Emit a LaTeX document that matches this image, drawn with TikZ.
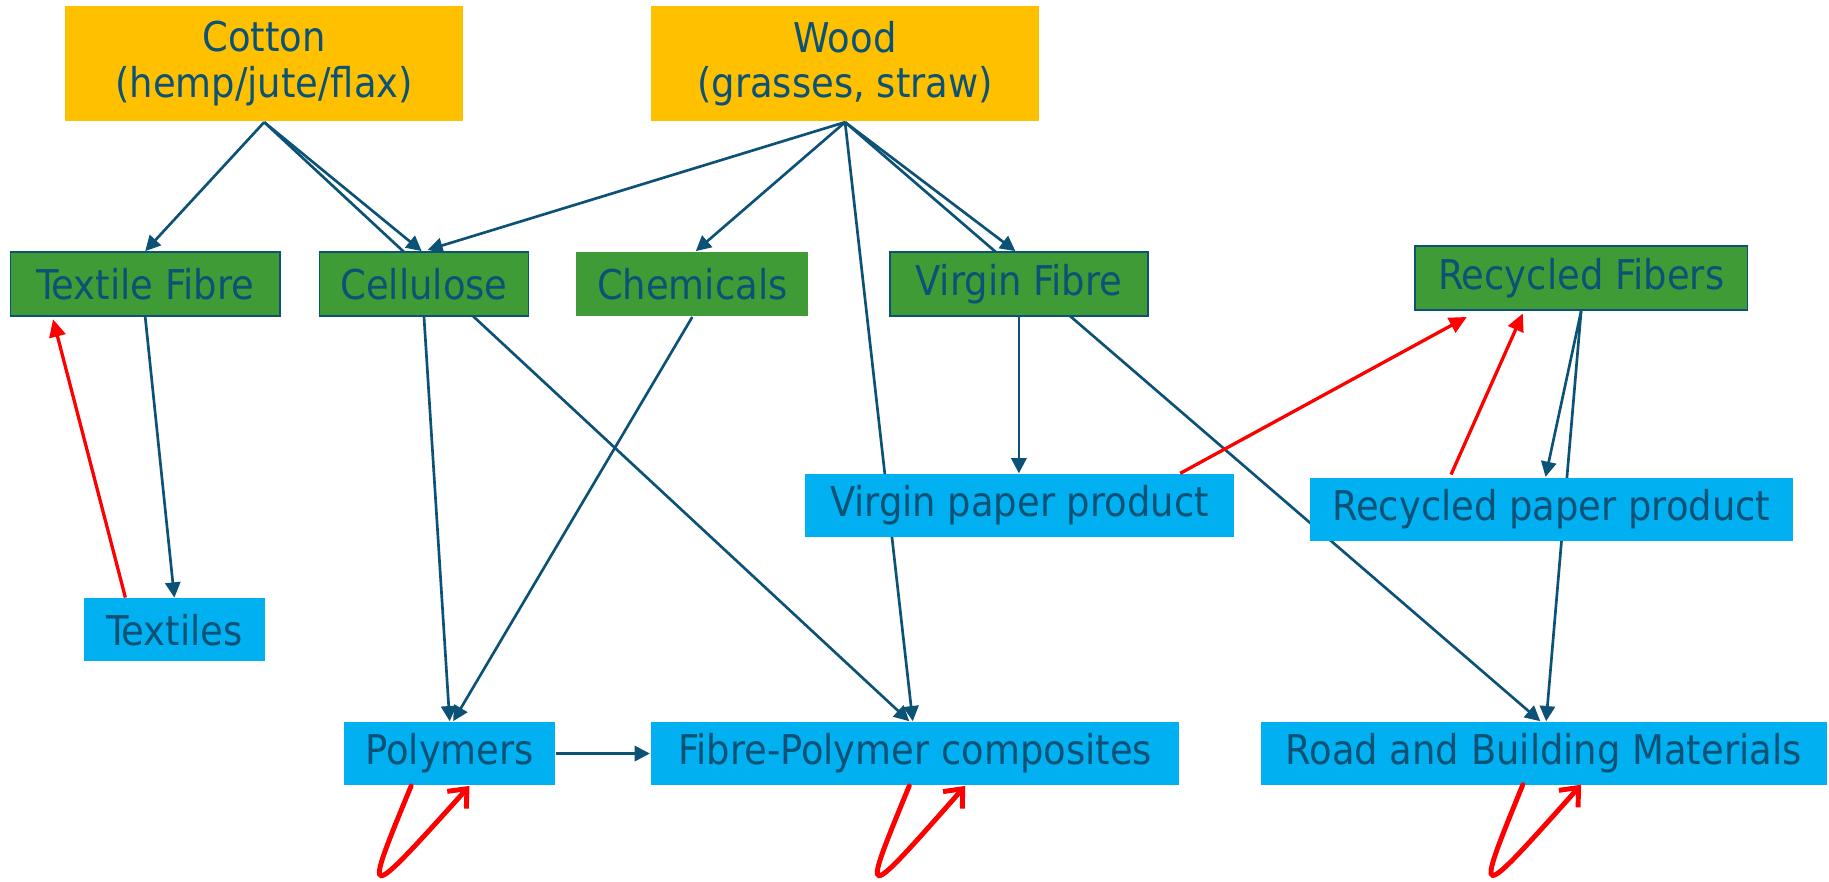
\documentclass[tikz,border=0pt]{standalone}
\usepackage{fontspec}
\setmainfont{DejaVu Sans Condensed}
\usetikzlibrary{arrows.meta,positioning,calc,backgrounds}
\definecolor{ink}{RGB}{12,82,118}
\definecolor{gold}{RGB}{255,192,0}
\definecolor{leaf}{RGB}{62,155,53}
\definecolor{sky}{RGB}{0,176,240}

\begin{document}
\begin{tikzpicture}[
    x=0.01cm, y=-0.01cm,
    font=\fontsize{10}{11}\selectfont,
    every node/.style={text=ink, inner sep=0pt, align=center},
    arrow/.style={-{Triangle[length=1.3mm, width=1.3mm]}, draw=ink, line width=0.65pt},
    feedback/.style={-{Triangle[length=1.5mm, width=1.4mm]}, draw=red, line width=0.8pt},
    selfloop/.style={-{Straight Barb[length=1.3mm, width=2.2mm]}, draw=red, line width=1.2pt, line cap=round},
    source/.style={fill=gold, minimum height=0.99cm},
    fibre/.style={fill=leaf, draw=ink, line width=0.4pt, minimum height=0.55cm},
    product/.style={fill=sky, minimum height=0.54cm}
]
\useasboundingbox (0,0) rectangle (1568,756);

% raw materials
\node[source, minimum width=3.41cm] (cotton) at (226.5,54.5) {Cotton\\(hemp/jute/flax)};
\node[source, minimum width=3.33cm] (wood) at (724.5,54.5) {Wood\\(grasses, straw)};

% fibres and intermediates
\node[fibre, minimum width=2.31cm] (textfib) at (124.5,243.5) {Textile Fibre};
\node[fibre, minimum width=1.79cm] (cellu) at (363.5,243.5) {Cellulose};
\node[fibre, draw=none, minimum width=1.99cm] (chem) at (593.5,243.5) {Chemicals};
\node[fibre, minimum width=2.21cm] (virgfib) at (873.5,243.5) {Virgin Fibre};
\node[fibre, minimum width=2.85cm] (recfib) at (1355.5,238.5) {Recycled Fibers};

% products
\node[product, minimum width=3.68cm] (virgpap) at (874,433.5) {Virgin paper product};
\node[product, minimum width=4.14cm] (recpap) at (1330,436.5) {Recycled paper product};
\node[product, minimum width=1.55cm] (textiles) at (149.5,540) {Textiles};
\node[product, minimum width=1.81cm] (polym) at (385.5,646) {Polymers};
\node[product, minimum width=4.53cm] (fpc) at (784.5,646) {Fibre-Polymer composites};
\node[product, minimum width=4.85cm] (road) at (1323.5,646) {Road and Building Materials};

\begin{pgfonlayer}{background}
\draw[arrow] (cotton.south) -- (textfib.north);
\draw[arrow] (cotton.south) -- ($(cellu.north)+(-2,0)$);
\draw[arrow] (cotton.south) -- ($(fpc.north)+(-5,0)$);
\draw[arrow] (wood.south) -- ($(cellu.north)+(3,-1)$);
\draw[arrow] (wood.south) -- ($(chem.north)+(3,0)$);
\draw[arrow] (wood.south) -- ($(fpc.north)+(-2,0)$);
\draw[arrow] (wood.south) -- ($(virgfib.north)+(-3,0)$);
\draw[arrow] (wood.south) -- ($(road.north)+(-3,0)$);
\draw[arrow] (textfib.south) -- (textiles.north);
\draw[arrow] (cellu.south) -- (polym.north);
\draw[arrow] (chem.south) -- ($(polym.north)+(3,0)$);
\draw[arrow] (virgfib.south) -- (virgfib.south |- virgpap.north);
\draw[arrow] (polym.east) -- (fpc.west);
\draw[arrow] (recfib.south) -- ($(recpap.north)+(-5,0)$);
\draw[arrow] (recfib.south) -- ($(road.north)+(2,0)$);
\end{pgfonlayer}

% recycling
\draw[feedback] ($(textiles.north)+(-42,0)$) -- ($(textfib.south)+(-79,2)$);
\draw[feedback] ($(virgpap.north east)+(-47,0)$) -- ($(recfib.south)+(-98,5)$);
\draw[feedback] ($(recpap.north)+(-86,-2)$) -- ($(recfib.south)+(-50,2)$);

\draw[selfloop] ($(polym.south)+(-33,0)$) .. controls ($(polym.south)+(-75,102)$) .. ($(polym.south)+(17,0)$);
\draw[selfloop] ($(fpc.south)+(-5,0)$) .. controls ($(fpc.south)+(-47,102)$) .. ($(fpc.south)+(43,0)$);
\draw[selfloop] ($(road.south)+(-18,-1)$) .. controls ($(road.south)+(-60,102)$) .. ($(road.south)+(32,-1)$);

\end{tikzpicture}
\end{document}
